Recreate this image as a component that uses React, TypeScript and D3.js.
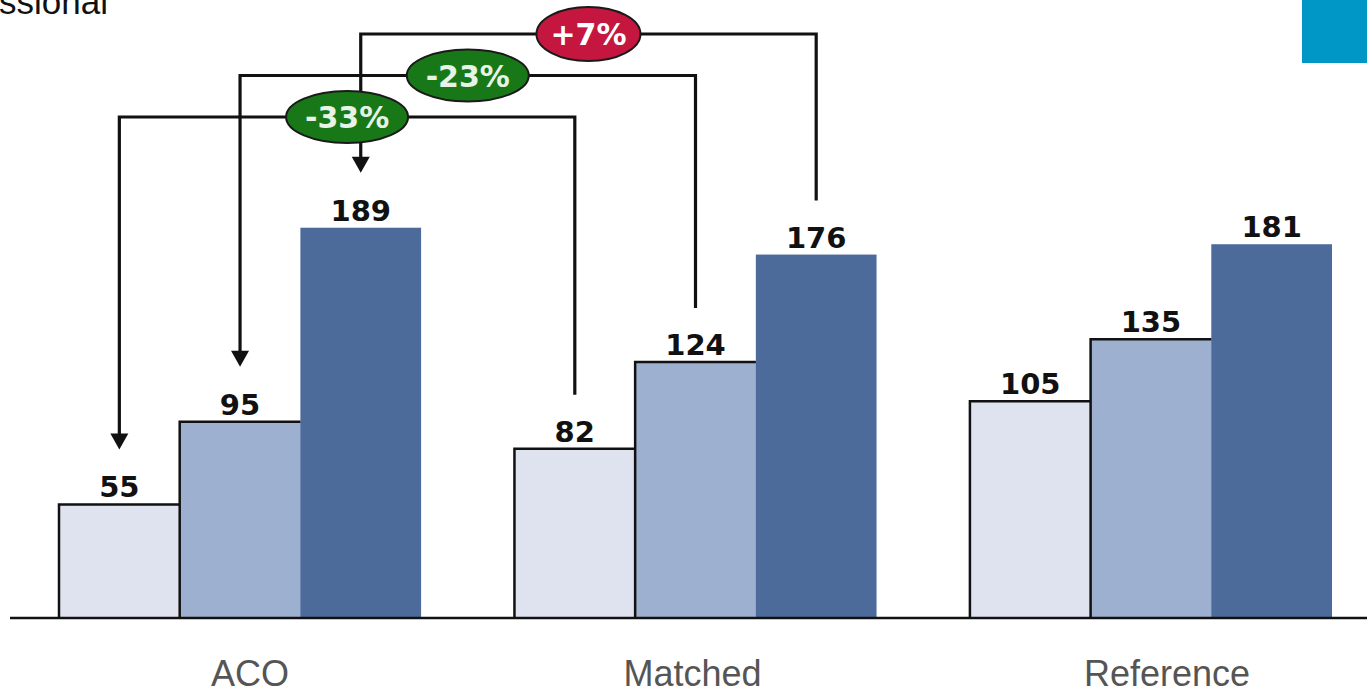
import React from "react";
import * as d3 from "d3";

const categories = ["ACO", "Matched", "Reference"];
const seriesKeys = ["s1", "s2", "s3"];
const seriesValues: number[][] = [
  [55, 82, 105],
  [95, 124, 135],
  [189, 176, 181],
];
const seriesColors = ["#dfe3ef", "#9db0cf", "#4c6a9a"];
const headerText = "Professional";

const W = 1367;
const H = 692;
const BASE = 618;
// small horizontal nudges of the category captions, as in the reference layout
const captionNudge = [10, -3, 16];

export default function App() {
  const x = d3.scaleBand<string>().domain(categories).range([59, 1332]).paddingInner(0.205).paddingOuter(0);
  const xs = d3.scaleBand<string>().domain(seriesKeys).range([0, x.bandwidth()]).padding(0);
  const y = d3.scaleLinear().domain([0, 100]).range([BASE, BASE - 206.5]);

  const barX = (ci: number, si: number) => (x(categories[ci]) as number) + (xs(seriesKeys[si]) as number);
  const barCx = (ci: number, si: number) => barX(ci, si) + xs.bandwidth() / 2;

  const annotations = seriesKeys.map((_, si) => {
    const a = seriesValues[si][0];
    const m = seriesValues[si][1];
    const pct = Math.round((a / m - 1) * 100);
    const label = (pct > 0 ? "+" : "-") + Math.abs(pct) + "%";
    return { si, label, positive: pct > 0, a, m };
  });

  return (
    <svg width={W} height={H} style={{ position: "absolute", left: 0, top: 0, background: "#fff" }}>
      <rect x={0} y={0} width={W} height={H} fill="#fff" />
      <text x={108} y={14} textAnchor="end" fontFamily="Liberation Sans, Arial, sans-serif" fontSize={35} fill="#111">
        {headerText}
      </text>
      <rect x={1302} y={0} width={65} height={63} fill="#0096c6" />

      {/* bars */}
      {seriesKeys.map((k, si) =>
        categories.map((c, ci) => {
          const v = seriesValues[si][ci];
          const bx = barX(ci, si);
          const w = xs.bandwidth();
          return (
            <rect key={k + c} x={bx} y={y(v)} width={w + (si < 2 ? 0.5 : 0)} height={BASE - y(v)} fill={seriesColors[si]} />
          );
        })
      )}
      {seriesKeys.map((k, si) =>
        si < 2
          ? categories.map((c, ci) => {
              const v = seriesValues[si][ci];
              const bx = barX(ci, si);
              const w = xs.bandwidth();
              return (
                <path
                  key={"o" + k + c}
                  d={`M${bx},${BASE} V${y(v)} H${bx + w}`}
                  fill="none"
                  stroke="#111"
                  strokeWidth={2.5}
                />
              );
            })
          : null
      )}
      {seriesKeys.map((k, si) =>
        categories.map((c, ci) => {
          const v = seriesValues[si][ci];
          return (
            <text
              key={"t" + k + c}
              x={barCx(ci, si)}
              y={y(v) - 7}
              textAnchor="middle"
              fontFamily="DejaVu Sans, Verdana, sans-serif"
              fontWeight="bold"
              fontSize={29}
              fill="#111"
            >
              {v}
            </text>
          );
        })
      )}

      {/* axis */}
      <line x1={10} x2={W} y1={BASE} y2={BASE} stroke="#111" strokeWidth={2.5} />
      {categories.map((c, ci) => (
        <text
          key={"c" + c}
          x={(x(c) as number) + x.bandwidth() / 2 + captionNudge[ci]}
          y={686}
          textAnchor="middle"
          fontFamily="Liberation Sans, Arial, sans-serif"
          fontSize={36}
          fill="#555"
        >
          {c}
        </text>
      ))}

      {/* annotation lines */}
      {annotations.map((an) => {
        const lx = barCx(0, an.si);
        const rx = barCx(1, an.si);
        const level = 117 - an.si * 41.5;
        const start = y(an.m) - 54;
        const tip = y(an.a) - 55;
        return (
          <g key={"al" + an.si}>
            <path
              d={`M${rx},${start} V${level} H${lx} V${tip - 13}`}
              fill="none"
              stroke="#111"
              strokeWidth={3.2}
            />
            <path d={`M${lx - 9},${tip - 16} L${lx + 9},${tip - 16} L${lx},${tip} Z`} fill="#111" />
          </g>
        );
      })}
      {annotations.map((an) => {
        const lx = barCx(0, an.si);
        const rx = barCx(1, an.si);
        const level = 117 - an.si * 41.5;
        const cx = (lx + rx) / 2;
        const erx = an.label.length === 3 ? 52 : 61;
        const ery = an.label.length === 3 ? 27 : 26;
        return (
          <g key={"ae" + an.si}>
            <ellipse cx={cx} cy={level} rx={erx} ry={ery} fill={an.positive ? "#c4163f" : "#187818"} stroke="#1a1a1a" strokeWidth={2} />
            <text
              x={cx}
              y={level + 11}
              textAnchor="middle"
              fontFamily="DejaVu Sans, Verdana, sans-serif"
              fontWeight="bold"
              fontSize={30}
              fill={an.positive ? "#ffffff" : "#e6f3e6"}
            >
              {an.label}
            </text>
          </g>
        );
      })}
    </svg>
  );
}
